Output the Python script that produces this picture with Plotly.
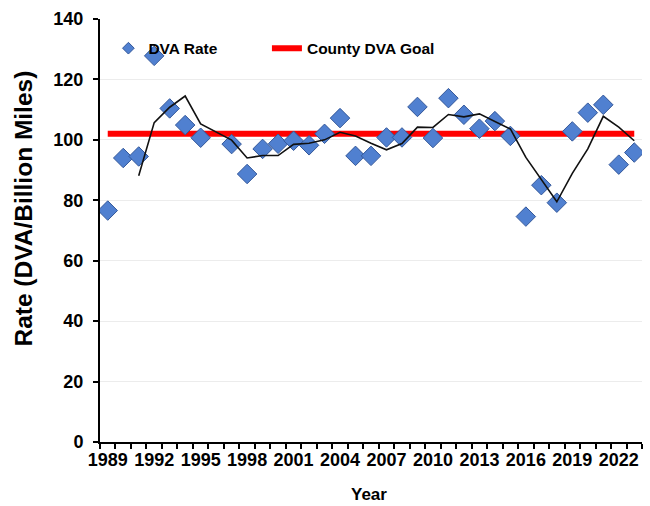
import plotly.graph_objects as go

years = list(range(1989, 2024))
dva_rate = [76.6, 94.0, 94.5, 127.8, 110.4, 104.9, 100.7, None, 98.6, 88.7,
            97.0, 98.7, 99.7, 98.2, 102.0, 107.2, 94.7, 94.7, 100.8, 100.8,
            110.9, 100.6, 113.8, 108.3, 103.7, 106.2, 101.3, 74.6, 85.0, 79.2,
            102.8, 109.0, 111.6, 91.8, 95.8]
moving_avg = [None, None, 88.1, 105.7, 110.8, 114.5, 105.3, None, 99.9, 94.0,
              94.8, 94.8, 98.5, 98.9, 100.0, 102.5, 101.3, 98.9, 96.7, 98.8,
              104.2, 104.1, 108.4, 107.6, 108.6, 106.1, 103.6, 94.2, 86.9, 79.5,
              88.9, 97.0, 107.8, 104.2, 99.7]
goal_value = 102
tick_years = list(range(1989, 2023, 3))
y_ticks = list(range(0, 141, 20))

FONT = "Liberation Sans, Arial, sans-serif"
BLUE = "#5080D0"
BLUE_EDGE = "#34589A"

fig = go.Figure()
fig.add_trace(go.Scatter(
    x=years, y=[goal_value] * len(years), mode="lines", name="County DVA Goal",
    line=dict(color="#FF0000", width=6), legend="legend2", hoverinfo="skip"))
fig.add_trace(go.Scatter(
    x=years, y=dva_rate, mode="markers", name="DVA Rate", showlegend=False,
    marker=dict(symbol="diamond", size=15, color=BLUE,
                line=dict(color=BLUE_EDGE, width=1))))
# legend-only entry with a smaller symbol, as in the original legend
fig.add_trace(go.Scatter(
    x=[None], y=[None], mode="markers", name="DVA Rate", legend="legend",
    marker=dict(symbol="diamond", size=9, color=BLUE,
                line=dict(color=BLUE_EDGE, width=1))))
fig.add_trace(go.Scatter(
    x=years, y=moving_avg, mode="lines", name="3-yr avg", showlegend=False,
    connectgaps=True, line=dict(color="#111111", width=1.6)))

axis_font = dict(family=FONT, size=18, color="black", weight="bold")
legend_font = dict(family=FONT, size=15.5, color="black", weight="bold")

fig.update_layout(
    width=650, height=506,
    margin=dict(l=100, r=8, t=19, b=64),
    paper_bgcolor="white", plot_bgcolor="white",
    font=dict(family=FONT, color="black"),
    showlegend=True,
    legend=dict(orientation="h", x=0.0155, y=0.93, xanchor="left", yanchor="middle",
                bgcolor="rgba(0,0,0,0)", font=legend_font),
    legend2=dict(orientation="h", x=0.308, y=0.93, xanchor="left", yanchor="middle",
                 bgcolor="rgba(0,0,0,0)", font=legend_font),
    xaxis=dict(range=[1988.5, 2023.5], tickmode="array", tickvals=tick_years,
               ticktext=[str(y) for y in tick_years], ticks="",
               tickfont=axis_font, showline=True, linecolor="black", linewidth=2,
               showgrid=False, zeroline=False,
               minor=dict(tickmode="array", tickvals=[y - 0.5 for y in years] + [2023.5],
                          ticks="outside", ticklen=5, tickwidth=2, tickcolor="black",
                          showgrid=False)),
    yaxis=dict(range=[0, 140], tickmode="array", tickvals=y_ticks, ticks="outside",
               ticklen=5, tickwidth=2, tickcolor="black", tickfont=axis_font,
               showline=True, linecolor="black", linewidth=2,
               showgrid=True, gridcolor="#ececec", gridwidth=1, zeroline=False,
               ticklabelstandoff=6),
    annotations=[
        dict(text="Rate (DVA/Billion Miles)", xref="paper", yref="paper",
             x=-0.142, y=0.552, textangle=-90, showarrow=False,
             xanchor="center", yanchor="middle",
             font=dict(family=FONT, size=24.5, color="black", weight="bold")),
        dict(text="Year", xref="paper", yref="paper", x=0.496, y=-0.125,
             showarrow=False, xanchor="center", yanchor="middle",
             font=dict(family=FONT, size=17, color="black", weight="bold")),
    ],
)

fig.write_html("out.html", config={"displayModeBar": False},
               post_script="document.body.style.margin='0';")
